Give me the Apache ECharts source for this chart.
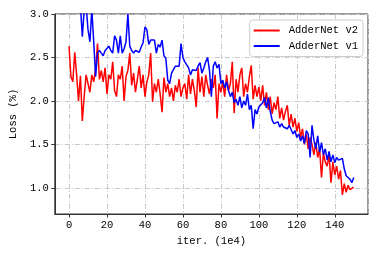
<!DOCTYPE html>
<html><head><meta charset="utf-8">
<script src="https://cdn.jsdelivr.net/npm/echarts@6/dist/echarts.min.js"></script>
<style>html,body{margin:0;padding:0;background:#fff}#c{width:382px;height:255px}</style>
</head><body><div id="c"></div>
<script>
const seriesNames = ['AdderNet v2', 'AdderNet v1'];
const xTicks = [0, 20, 40, 60, 80, 100, 120, 140];
const yTicks = [1.0, 1.5, 2.0, 2.5, 3.0];
const v2Loss = [2.63,2.28,2.22,2.56,2.30,2.00,2.29,1.77,2.06,2.30,
2.20,2.10,2.30,2.22,2.37,2.66,2.25,2.35,2.22,2.38,
2.08,2.30,2.25,2.45,2.12,2.05,2.30,2.25,2.40,2.00,
2.28,2.35,2.55,2.18,2.32,2.10,2.25,2.40,2.15,2.30,
2.05,2.22,2.30,2.55,1.99,2.20,2.10,2.25,2.08,1.87,
2.27,2.10,2.20,2.05,2.15,2.00,2.18,2.10,2.25,2.05,
2.15,2.20,2.02,2.30,2.08,2.25,2.12,1.93,2.38,2.10,
2.28,2.05,2.30,2.18,2.08,2.25,2.15,2.30,1.80,2.20,
2.10,2.22,2.05,2.30,2.12,2.20,2.45,1.86,2.25,2.10,
2.30,2.38,2.05,2.20,2.10,2.28,2.41,2.02,2.18,2.05,
2.16,2.00,2.18,1.95,2.10,1.90,2.05,1.85,1.98,1.90,
2.05,1.80,1.92,1.78,1.88,1.95,1.72,1.85,1.70,1.80,
1.65,1.75,1.58,1.68,1.50,1.62,1.45,1.58,1.50,1.38,
1.52,1.35,1.45,1.12,1.40,1.30,1.25,1.38,1.06,1.30,
1.15,1.25,1.10,1.20,0.92,1.05,0.95,1.03,0.98,1.00,1.01];
const v1Loss = [3.60,3.50,3.40,3.30,3.25,3.15,3.10,2.74,3.05,3.10,
2.82,2.68,3.05,2.68,2.28,2.55,2.58,2.55,2.52,2.58,
2.56,2.63,2.58,2.55,2.75,2.70,2.55,2.75,2.55,2.60,
2.68,3.00,2.63,2.58,2.55,2.58,2.60,2.56,2.62,2.67,
2.85,2.82,2.65,2.70,2.68,2.70,2.55,2.65,2.62,2.70,
2.52,2.49,2.24,2.20,2.32,2.30,2.40,2.42,2.40,2.66,
2.50,2.45,2.43,2.38,2.30,2.36,2.34,2.35,2.40,2.44,
2.32,2.38,2.45,2.50,2.35,2.05,2.40,2.45,2.38,2.42,
2.20,2.24,2.15,2.22,2.12,2.05,2.10,1.98,2.02,1.95,
2.05,1.92,2.00,1.95,2.08,1.90,1.95,1.68,1.90,1.85,
1.93,1.95,1.98,2.04,1.92,2.04,1.88,1.78,1.74,1.72,
1.76,1.70,1.74,1.70,1.72,1.68,1.72,1.70,1.62,1.66,
1.58,1.62,1.54,1.60,1.51,1.66,1.62,1.35,1.72,1.55,
1.45,1.60,1.41,1.52,1.38,1.45,1.32,1.42,1.30,1.38,
1.29,1.35,1.32,1.30,1.34,1.22,1.14,1.12,1.10,1.06,1.12];

const FONT = 'Liberation Mono';
const toPairs = arr => arr.map((v, i) => [i, v]);
const gridLine = {show: true, lineStyle: {color: '#c8c8c8', width: 1, type: [5, 2, 1, 2]}};
const chart = echarts.init(document.getElementById('c'), null, {renderer: 'canvas'});
chart.setOption({
  animation: false,
  textStyle: {fontFamily: FONT},
  grid: {left: 49, top: 14, right: 14, bottom: 41, show: true, borderColor: '#333', borderWidth: 1, backgroundColor: 'transparent'},
  legend: {
    orient: 'vertical', right: 19, top: 20, padding: [5, 5, 5, 4],
    itemWidth: 26, itemHeight: 2, itemGap: 4.5, icon: 'rect',
    borderColor: '#ccc', borderWidth: 1, borderRadius: 3, backgroundColor: 'rgba(255,255,255,0.85)',
    textStyle: {fontFamily: FONT, fontSize: 10.5, color: '#000', padding: [0, 0, 0, 4]},
    data: seriesNames
  },
  xAxis: {
    type: 'value', min: -7.5, max: 157.5, splitNumber: 8, minInterval: 20, maxInterval: 20,
    name: 'iter. (1e4)', nameLocation: 'middle', nameGap: 20,
    nameTextStyle: {fontFamily: FONT, fontSize: 10.5, color: '#000'},
    axisLine: {show: true, onZero: false, lineStyle: {color: '#333', width: 1}},
    axisTick: {show: true, inside: false, length: 3.5, lineStyle: {color: '#333'}},
    axisLabel: {show: true, margin: 6, fontFamily: FONT, fontSize: 10.5, color: '#000', showMinLabel: false, showMaxLabel: false,
      formatter: v => xTicks.includes(v) ? String(v) : ''},
    splitLine: gridLine
  },
  yAxis: {
    type: 'value', min: 0.7, max: 3.0, splitNumber: 5, minInterval: 0.5, maxInterval: 0.5,
    name: 'Loss (%)', nameLocation: 'middle', nameGap: 25, nameRotate: 90,
    nameTextStyle: {fontFamily: FONT, fontSize: 10.5, color: '#000'},
    axisLine: {show: true, onZero: false, lineStyle: {color: '#333', width: 1}},
    axisTick: {show: true, inside: false, length: 3.5, lineStyle: {color: '#333'}},
    axisLabel: {show: true, margin: 6, fontFamily: FONT, fontSize: 10.5, color: '#000', showMinLabel: false,
      formatter: v => yTicks.some(t => Math.abs(t - v) < 1e-6) ? v.toFixed(1) : ''},
    splitLine: gridLine
  },
  series: [
    {name: seriesNames[0], type: 'line', data: toPairs(v2Loss), symbol: 'none', clip: true,
     lineStyle: {color: '#ff0000', width: 1.5}, itemStyle: {color: '#ff0000'}},
    {name: seriesNames[1], type: 'line', data: toPairs(v1Loss), symbol: 'none', clip: true,
     lineStyle: {color: '#0000ff', width: 1.5}, itemStyle: {color: '#0000ff'}}
  ]
});
</script></body></html>
